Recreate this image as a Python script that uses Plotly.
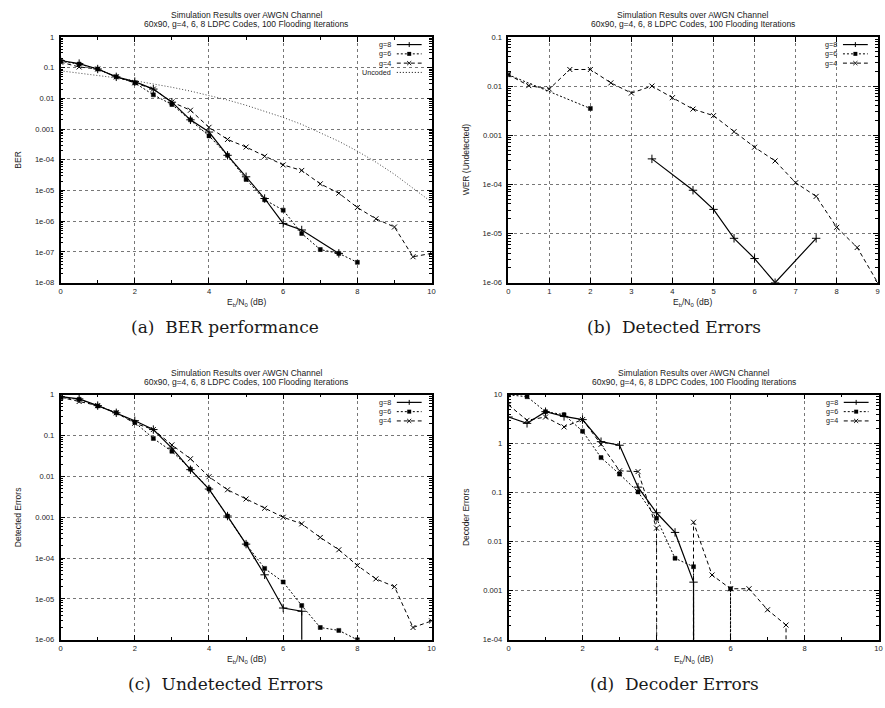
import plotly.graph_objects as go

W, H = 885, 708
Z = 1e-300  # zero error count: plotted below the log axis (drops to the border)

# ---------------- data ----------------
# (a) BER performance
a_x_g8 = [0, 0.5, 1, 1.5, 2, 2.5, 3, 3.5, 4, 4.5, 5, 5.5, 6, 6.5, 7.5]
a_y_g8 = [0.17, 0.135, 0.09, 0.05, 0.035, 0.02, 0.0075, 0.002, 0.0008, 0.00014, 2.8e-5, 5.5e-6, 8.5e-7, 5.2e-7, 9e-8]
a_x_g6 = [0, 0.5, 1, 1.5, 2, 2.5, 3, 3.5, 4, 4.5, 5, 5.5, 6, 6.5, 7, 7.5, 8]
a_y_g6 = [0.16, 0.13, 0.09, 0.05, 0.032, 0.013, 0.0063, 0.002, 0.0006, 0.00014, 2.3e-5, 5e-6, 2.3e-6, 4e-7, 1.2e-7, 9e-8, 4.6e-8]
a_x_g4 = [0, 0.5, 1, 1.5, 2, 2.5, 3, 3.5, 4, 4.5, 5, 5.5, 6, 6.5, 7, 7.5, 8, 8.5, 9, 9.5, 10]
a_y_g4 = [0.15, 0.105, 0.09, 0.05, 0.032, 0.02, 0.0076, 0.0041, 0.00114, 4.6e-4, 2.6e-4, 1.3e-4, 6.8e-5, 4.5e-5,
          1.65e-5, 8.2e-6, 2.8e-6, 1.2e-6, 6.5e-7, 7e-8, 9e-8]
a_x_unc = [0, 0.5, 1, 1.5, 2, 2.5, 3, 3.5, 4, 4.5, 5, 5.5, 6, 6.5, 7, 7.5, 8, 8.5, 9, 9.5, 10]
a_y_unc = [0.0786, 0.0671, 0.0563, 0.0464, 0.0375, 0.0296, 0.0229, 0.0172, 0.0125, 0.00882, 0.00595, 0.00383,
           0.00239, 0.00142, 0.000773, 0.000400, 0.000191, 8.4e-5, 3.36e-5, 1.2e-5, 4.2e-6]

# (b) Detected errors (WER undetected)
b_x_g8 = [3.5, 4.5, 5, 5.5, 6, 6.5, 7.5]
b_y_g8 = [3.3e-4, 7.6e-5, 3.1e-5, 8e-6, 3.1e-6, 1e-6, 8e-6]
b_x_g6 = [0, 2]
b_y_g6 = [0.017, 0.0035]
b_x_g4 = [0, 0.5, 1, 1.5, 2, 2.5, 3, 3.5, 4, 4.5, 5, 5.5, 6, 6.5, 7, 7.5, 8, 8.5, 9]
b_y_g4 = [0.017, 0.0102, 0.0087, 0.0217, 0.0217, 0.0116, 0.0072, 0.010, 0.0058, 0.0034, 0.0025, 0.00118,
          5.7e-4, 3.0e-4, 1.08e-4, 5.7e-5, 1.34e-5, 5.2e-6, 1e-6]

# (c) Undetected errors (detected errors)
c_x_g8 = [0, 0.5, 1, 1.5, 2, 2.5, 3, 3.5, 4, 4.5, 5, 5.5, 6, 6.5, 7]
c_y_g8 = [0.9, 0.79, 0.54, 0.36, 0.23, 0.14, 0.049, 0.0146, 0.0049, 0.00107, 2.2e-4, 3.9e-5, 6e-6, 5e-6, Z]
c_x_g6 = [0, 0.5, 1, 1.5, 2, 2.5, 3, 3.5, 4, 4.5, 5, 5.5, 6, 6.5, 7, 7.5, 8]
c_y_g6 = [0.85, 0.77, 0.53, 0.36, 0.21, 0.085, 0.041, 0.015, 0.0049, 0.00107, 2.2e-4, 5.6e-5, 2.6e-5,
          6.9e-6, 2e-6, 1.7e-6, 1e-6]
c_x_g4 = [0, 0.5, 1, 1.5, 2, 2.5, 3, 3.5, 4, 4.5, 5, 5.5, 6, 6.5, 7, 7.5, 8, 8.5, 9, 9.5, 10]
c_y_g4 = [0.86, 0.68, 0.54, 0.36, 0.2, 0.14, 0.059, 0.027, 0.0098, 0.0047, 0.0028, 0.00166, 0.001, 6.9e-4,
          3.2e-4, 1.6e-4, 6.6e-5, 3.1e-5, 2e-5, 2e-6, 2.9e-6]

# (d) Decoder errors
d_x_g8 = [0, 0.5, 1, 1.5, 2, 2.5, 3, 3.5, 4, 4.5, 5, 5.5]
d_y_g8 = [3.5, 2.6, 4.5, 3.6, 3.1, 1.1, 0.93, 0.13, 0.039, 0.0155, 0.0015, Z]
d_x_g6 = [0, 0.5, 1, 1.5, 2, 2.5, 3, 3.5, 4, 4.5, 5, 5.5, 6, 6.5]
d_y_g6 = [9.9, 9.1, 4.5, 3.9, 1.8, 0.52, 0.24, 0.104, 0.030, 0.0046, 0.0031, Z, 0.0011, Z]
d_x_g4 = [0, 0.5, 1, 1.5, 2, 2.5, 3, 3.5, 4, 4.5, 5, 5.5, 6, 6.5, 7, 7.5, 8]
d_y_g4 = [6.2, 3.0, 3.5, 2.2, 3.1, 0.97, 0.28, 0.27, 0.019, Z, 0.025, 0.0021, 0.0011, 0.0011, 4.1e-4, 2e-4, Z]

# tick labels
yt_a_vals = [1, 0.1, 0.01, 0.001, 1e-4, 1e-5, 1e-6, 1e-7, 1e-8]
yt_a_text = ["1", "0.1", "0.01", "0.001", "1e-04", "1e-05", "1e-06", "1e-07", "1e-08"]
yt_b_vals = [0.1, 0.01, 0.001, 1e-4, 1e-5, 1e-6]
yt_b_text = ["0.1", "0.01", "0.001", "1e-04", "1e-05", "1e-06"]
yt_c_vals = [1, 0.1, 0.01, 0.001, 1e-4, 1e-5, 1e-6]
yt_c_text = ["1", "0.1", "0.01", "0.001", "1e-04", "1e-05", "1e-06"]
yt_d_vals = [10, 1, 0.1, 0.01, 0.001, 1e-4]
yt_d_text = ["10", "1", "0.1", "0.01", "0.001", "1e-04"]

title1 = "Simulation Results over AWGN Channel"
title2 = "60x90, g=4, 6, 8 LDPC Codes, 100 Flooding Iterations"
xlabel = "E<sub>b</sub>/N<sub>0</sub> (dB)"
ylabels = ["BER", "WER (Undetected)", "Detected Errors", "Decoder Errors"]
captions = ["(a)  BER performance", "(b)  Detected Errors", "(c)  Undetected Errors", "(d)  Decoder Errors"]

# ---------------- layout helpers ----------------
def fx(p):
    return p / W


def fy(p):
    return 1 - p / H


# panel plot areas in pixels: left, right, top, bottom
PANELS = [
    (59, 432.5, 33.3, 282.3),
    (509.7, 881.7, 33.3, 282.3),
    (59, 432.5, 395.7, 644),
    (510, 882.5, 395.7, 644),
]
CAP_X = [225, 677, 225, 677]

SANS = "Liberation Sans, Arial, sans-serif"
TXT = "#1a1a1a"
TICKFONT = dict(family=SANS, size=7.6, color=TXT)
FSZ = 8.5
KEY_FSZ = 7.2

STY = {
    "g8": dict(line=dict(color="black", width=1.2),
               marker=dict(symbol="cross-thin", size=6, color="black", line=dict(width=1, color="black"))),
    "g6": dict(line=dict(color="black", width=1, dash="2px,2px"),
               marker=dict(symbol="square", size=4, color="black", line=dict(width=0.5, color="black"))),
    "g4": dict(line=dict(color="black", width=1, dash="4px,3px"),
               marker=dict(symbol="x-thin", size=5, color="black", line=dict(width=1, color="black"))),
}

fig = go.Figure()

series = [
    [("g8", a_x_g8, a_y_g8), ("g6", a_x_g6, a_y_g6), ("g4", a_x_g4, a_y_g4)],
    [("g8", b_x_g8, b_y_g8), ("g6", b_x_g6, b_y_g6), ("g4", b_x_g4, b_y_g4)],
    [("g8", c_x_g8, c_y_g8), ("g6", c_x_g6, c_y_g6), ("g4", c_x_g4, c_y_g4)],
    [("g8", d_x_g8, d_y_g8), ("g6", d_x_g6, d_y_g6), ("g4", d_x_g4, d_y_g4)],
]

for i, sl in enumerate(series):
    xa = "x" if i == 0 else f"x{i+1}"
    ya = "y" if i == 0 else f"y{i+1}"
    if i == 0:
        fig.add_trace(go.Scatter(x=a_x_unc, y=a_y_unc, mode="lines", xaxis=xa, yaxis=ya, showlegend=False,
                                 line=dict(color="#444", width=1, dash="1px,2px")))
    for key, xs, ys in sl:
        fig.add_trace(go.Scatter(x=xs, y=ys, mode="lines+markers", xaxis=xa, yaxis=ya, showlegend=False,
                                 cliponaxis=True, **STY[key]))

x_ranges = [[0, 10], [0, 9], [0, 10], [0, 10]]
y_ranges = [[-8, 0], [-6, -1], [-6, 0], [-4, 1]]
y_ticks = [(yt_a_vals, yt_a_text), (yt_b_vals, yt_b_text), (yt_c_vals, yt_c_text), (yt_d_vals, yt_d_text)]
x_dticks = [2, 1, 2, 2]

layout = dict(width=W, height=H, margin=dict(l=0, r=0, t=0, b=0),
              paper_bgcolor="white", plot_bgcolor="white", showlegend=False)

shapes = []
annotations = []


def note(x, y, text, size=FSZ, **kw):
    d = dict(x=fx(x), y=fy(y), text=text, xref="paper", yref="paper", showarrow=False,
             xanchor=kw.pop("xanchor", "center"), yanchor="middle",
             font=dict(family=kw.pop("family", SANS), size=size, color=TXT))
    d.update(kw)
    annotations.append(d)


for i, (l, r, t, b) in enumerate(PANELS):
    xk = "xaxis" if i == 0 else f"xaxis{i+1}"
    yk = "yaxis" if i == 0 else f"yaxis{i+1}"
    xa = "x" if i == 0 else f"x{i+1}"
    ya = "y" if i == 0 else f"y{i+1}"
    lo, hi = y_ranges[i]
    minor_y = [k * 10 ** e for e in range(lo, hi) for k in range(2, 10)]
    xaxis = dict(domain=[fx(l), fx(r)], range=x_ranges[i], anchor=ya,
                 showline=True, linecolor="black", linewidth=1.5, mirror="ticks",
                 ticks="inside", ticklen=5, tickwidth=1, tickcolor="black",
                 dtick=x_dticks[i], tick0=0, tickfont=TICKFONT, ticklabeloverflow="allow",
                 showgrid=True, gridcolor="#777", griddash="dot", gridwidth=1, zeroline=False)
    if x_dticks[i] == 2:
        xaxis["minor"] = dict(dtick=1, tick0=0, ticks="inside", ticklen=3, tickcolor="black", showgrid=False)
    yaxis = dict(domain=[fy(b), fy(t)], type="log", range=[lo, hi], anchor=xa,
                 showline=True, linecolor="black", linewidth=1.5, mirror="ticks",
                 ticks="inside", ticklen=5, tickwidth=1, tickcolor="black",
                 tickmode="array", tickvals=y_ticks[i][0], ticktext=y_ticks[i][1], tickfont=TICKFONT,
                 ticklabelstandoff=3,
                 minor=dict(tickmode="array", tickvals=minor_y, ticks="inside", ticklen=3,
                            tickcolor="black", showgrid=False),
                 showgrid=True, gridcolor="#777", griddash="dot", gridwidth=1, zeroline=False)
    layout[xk] = xaxis
    layout[yk] = yaxis

    cx = (l + r) / 2
    cy = (t + b) / 2
    note(cx, t - 22, title1)
    note(cx, t - 13.3, title2)
    note(cx, b + 20, xlabel)
    note(l - 43, cy, ylabels[i], textangle=-90)
    note(CAP_X[i], b + 45, captions[i], size=17, family="DejaVu Serif, serif")

    # gnuplot-style key (label, then line sample with point)
    entries = [("g=8", None, "cross", 1.2), ("g=6", "2px,2px", "square", 1), ("g=4", "4px,3px", "x", 1)]
    if i == 0:
        entries.append(("Uncoded", "1px,2px", None, 1))
    for k, (lab, dash, sym, wd) in enumerate(entries):
        yy = t + 7.8 + 9.4 * k
        note(r - 40, yy, lab, size=KEY_FSZ, xanchor="right", borderpad=0)
        ln = dict(color="black", width=wd)
        if dash:
            ln["dash"] = dash
        shapes.append(dict(type="line", xref="paper", yref="paper", x0=fx(r - 35), x1=fx(r - 10),
                           y0=fy(yy), y1=fy(yy), line=ln))
        mx = r - 22.5
        if sym == "cross":
            shapes.append(dict(type="line", xref="paper", yref="paper", x0=fx(mx), x1=fx(mx),
                               y0=fy(yy - 2.5), y1=fy(yy + 2.5), line=dict(color="black", width=1)))
        elif sym == "square":
            shapes.append(dict(type="rect", xref="paper", yref="paper", x0=fx(mx - 2), x1=fx(mx + 2),
                               y0=fy(yy - 2), y1=fy(yy + 2), fillcolor="black", line=dict(width=0)))
        elif sym == "x":
            shapes.append(dict(type="line", xref="paper", yref="paper", x0=fx(mx - 2), x1=fx(mx + 2),
                               y0=fy(yy - 2), y1=fy(yy + 2), line=dict(color="black", width=1)))
            shapes.append(dict(type="line", xref="paper", yref="paper", x0=fx(mx - 2), x1=fx(mx + 2),
                               y0=fy(yy + 2), y1=fy(yy - 2), line=dict(color="black", width=1)))

layout["shapes"] = shapes
layout["annotations"] = annotations
fig.update_layout(**layout)

fig.write_html("out.html")
